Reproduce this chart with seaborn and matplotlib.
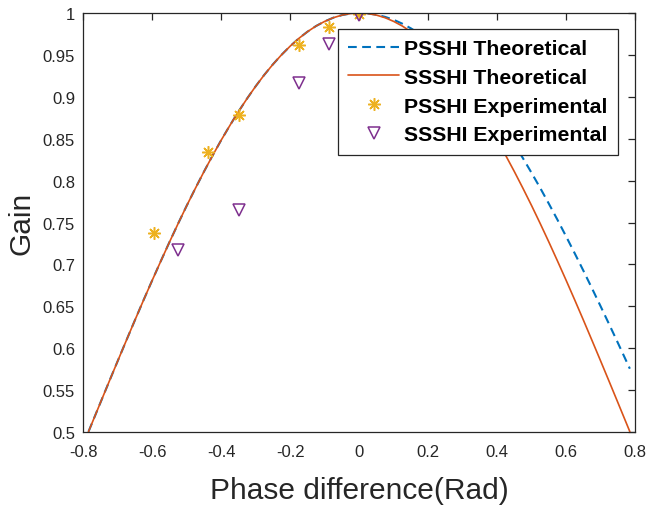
import matplotlib
matplotlib.use("Agg")
import matplotlib.pyplot as plt
import seaborn as sns
import pandas as pd

# ---------------- data ----------------
theory_x = [-0.785, -0.775, -0.75, -0.725, -0.7, -0.675, -0.65, -0.625, -0.6, -0.575,
            -0.55, -0.525, -0.5, -0.475, -0.45, -0.425, -0.4, -0.375, -0.35, -0.325,
            -0.3, -0.275, -0.25, -0.225, -0.2, -0.175, -0.15, -0.125, -0.1, -0.075,
            -0.05, -0.025, 0.0, 0.025, 0.05, 0.075, 0.1, 0.125, 0.15, 0.175,
            0.2, 0.225, 0.25, 0.275, 0.3, 0.325, 0.35, 0.375, 0.4, 0.425,
            0.45, 0.475, 0.5, 0.525, 0.55, 0.575, 0.6, 0.625, 0.65, 0.675,
            0.7, 0.725, 0.75, 0.775, 0.785]

# left half (x <= 0), shared by both theoretical curves
left_gain = [0.5004, 0.5104, 0.5354, 0.5603, 0.5850, 0.6095, 0.6338, 0.6577, 0.6812, 0.7042,
             0.7268, 0.7488, 0.7702, 0.7908, 0.8108, 0.8300, 0.8484, 0.8658, 0.8824, 0.8980,
             0.9127, 0.9263, 0.9388, 0.9502, 0.9605, 0.9697, 0.9777, 0.9845, 0.9900, 0.9944,
             0.9975, 0.9994, 1.0]

ssshi_right = [0.9994, 0.9975, 0.9944, 0.9900, 0.9845, 0.9777, 0.9697,
               0.9605, 0.9502, 0.9388, 0.9263, 0.9127, 0.8980, 0.8824, 0.8658, 0.8484, 0.8300,
               0.8108, 0.7908, 0.7702, 0.7488, 0.7268, 0.7042, 0.6812, 0.6577, 0.6338, 0.6095,
               0.5850, 0.5603, 0.5354, 0.5104, 0.5004]

psshi_right = [0.9995, 0.9980, 0.9954, 0.9919, 0.9873, 0.9817, 0.9752,
               0.9677, 0.9592, 0.9498, 0.9395, 0.9282, 0.9161, 0.9032, 0.8895, 0.8750, 0.8595,
               0.8434, 0.8267, 0.8092, 0.7912, 0.7725, 0.7533, 0.7335, 0.7133, 0.6927, 0.6716,
               0.6502, 0.6285, 0.6066, 0.5844, 0.5755]

psshi_theory = left_gain + psshi_right
ssshi_theory = left_gain + ssshi_right

psshi_exp_x = [-0.594, -0.437, -0.349, -0.175, -0.087, 0.0]
psshi_exp_y = [0.737, 0.834, 0.878, 0.962, 0.983, 0.999]

ssshi_exp_x = [-0.524, -0.349, -0.175, -0.087, 0.0]
ssshi_exp_y = [0.717, 0.765, 0.916, 0.963, 0.998]

x_ticks = [-0.8, -0.6, -0.4, -0.2, 0.0, 0.2, 0.4, 0.6, 0.8]
x_tick_labels = ["-0.8", "-0.6", "-0.4", "-0.2", "0", "0.2", "0.4", "0.6", "0.8"]
y_ticks = [0.5, 0.55, 0.6, 0.65, 0.7, 0.75, 0.8, 0.85, 0.9, 0.95, 1.0]
y_tick_labels = ["0.5", "0.55", "0.6", "0.65", "0.7", "0.75", "0.8", "0.85", "0.9", "0.95", "1"]

series_labels = ["PSSHI Theoretical", "SSSHI Theoretical",
                 "PSSHI Experimental", "SSSHI Experimental"]

# ---------------- styling ----------------
sns.set_style("white")
plt.rcParams["font.family"] = ["Liberation Sans", "DejaVu Sans"]

BLUE = "#0072BD"
ORANGE = "#D95319"
YELLOW = "#EDB120"
PURPLE = "#7E2F8E"
AXC = "#262626"

fig = plt.figure(figsize=(6.46, 5.06), dpi=100)
ax = fig.add_axes([0.129, 0.1443, 0.854, 0.828])

theory_df = pd.DataFrame({"x": theory_x, "psshi": psshi_theory, "ssshi": ssshi_theory})

sns.lineplot(data=theory_df, x="x", y="psshi", ax=ax, color=BLUE, linewidth=1.5,
             linestyle=(0, (4.2, 2.6)), label=series_labels[0])
sns.lineplot(data=theory_df, x="x", y="ssshi", ax=ax, color=ORANGE, linewidth=1.2,
             label=series_labels[1])
sns.lineplot(x=psshi_exp_x, y=psshi_exp_y, ax=ax, linestyle="none", marker=(8, 2, 0),
             markersize=9, color=YELLOW, markeredgecolor=YELLOW, markeredgewidth=1.1,
             label=series_labels[2])
sns.lineplot(x=ssshi_exp_x, y=ssshi_exp_y, ax=ax, linestyle="none", marker="v",
             markersize=8.5, color=PURPLE, markeredgecolor=PURPLE, markerfacecolor="none",
             markeredgewidth=1.1, label=series_labels[3])

ax.set_xlim(-0.8, 0.8)
ax.set_ylim(0.5, 1.0)
ax.set_xticks(x_ticks)
ax.set_xticklabels(x_tick_labels)
ax.set_yticks(y_ticks)
ax.set_yticklabels(y_tick_labels)

ax.tick_params(direction="in", length=5, width=0.9, colors=AXC, labelsize=12,
               top=True, right=True, labeltop=False, labelright=False)
ax.tick_params(axis="x", pad=9)
ax.tick_params(axis="y", pad=6)
for sp in ax.spines.values():
    sp.set_color(AXC)
    sp.set_linewidth(0.9)
    sp.set_visible(True)

ax.set_xlabel("Phase difference(Rad)", fontsize=21.5, color=AXC, labelpad=12)
ax.set_ylabel("Gain", fontsize=21.5, color=AXC, labelpad=5)

leg = ax.legend(loc="upper right", bbox_to_anchor=(0.969, 0.962), frameon=True,
                fancybox=False, framealpha=1.0, edgecolor=AXC,
                prop={"weight": "bold", "size": 15.3}, handlelength=2.4,
                handletextpad=0.25, labelspacing=0.46, borderpad=0.48, borderaxespad=0.0)
leg.get_frame().set_linewidth(0.9)
for t in leg.get_texts():
    t.set_color("black")

fig.savefig("out.png", dpi=100)
